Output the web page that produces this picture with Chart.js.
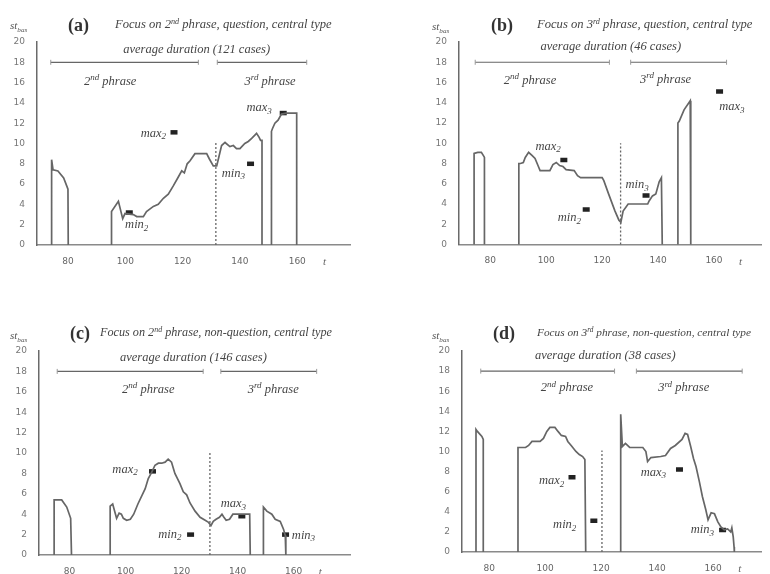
<!DOCTYPE html>
<html>
<head>
<meta charset="utf-8">
<title>st_bas contours</title>
<script src="https://cdn.jsdelivr.net/npm/chart.js@4.4.1/dist/chart.umd.min.js"></script>
<style>
  body { margin: 0; background: #fff; }
  #page { position: relative; width: 770px; height: 574px; overflow: hidden; font-family: "Liberation Serif", serif; color: #444; }
  canvas { position: absolute; }
  .lab { position: absolute; white-space: nowrap; line-height: 1; }
  .tag { font-weight: bold; font-size: 18px; color: #333; }
  .ttl { font-style: italic; font-size: 12.6px; color: #444; }
  .ylab { font-style: italic; font-size: 11px; color: #555; }
  sup { font-size: 65%; vertical-align: 0; position: relative; top: -0.5em; }
  sub { font-size: 65%; vertical-align: 0; position: relative; top: 0.35em; }
</style>
</head>
<body>
<div id="page">
  <canvas id="ca" width="385" height="287" style="left:0;top:0"></canvas>
  <canvas id="cb" width="385" height="287" style="left:385px;top:0"></canvas>
  <canvas id="cc" width="385" height="287" style="left:0;top:287px"></canvas>
  <canvas id="cd" width="385" height="287" style="left:385px;top:287px"></canvas>

  <div class="lab ylab" style="left:10px;top:20px">st<sub>bas</sub></div>
  <div class="lab tag" style="left:68px;top:16px">(a)</div>
  <div class="lab ttl" style="left:115px;top:18px">Focus on 2<sup>nd</sup> phrase, question, central type</div>

  <div class="lab ylab" style="left:432px;top:21px">st<sub>bas</sub></div>
  <div class="lab tag" style="left:491px;top:16px">(b)</div>
  <div class="lab ttl" style="left:537px;top:18px">Focus on 3<sup>rd</sup> phrase, question, central type</div>

  <div class="lab ylab" style="left:10px;top:330px">st<sub>bas</sub></div>
  <div class="lab tag" style="left:70px;top:324px">(c)</div>
  <div class="lab ttl" style="left:100px;top:326px;font-size:12.2px">Focus on 2<sup>nd</sup> phrase, non-question, central type</div>

  <div class="lab ylab" style="left:432px;top:330px">st<sub>bas</sub></div>
  <div class="lab tag" style="left:493px;top:324px">(d)</div>
  <div class="lab ttl" style="left:537px;top:327px;font-size:11.3px">Focus on 3<sup>rd</sup> phrase, non-question, central type</div>
</div>

<script>
// tick labels
const xTicks = [80, 100, 120, 140, 160];
const yTicks = [0, 2, 4, 6, 8, 10, 12, 14, 16, 18, 20];

// [t, st_bas] pairs, null = gap between voiced stretches
const curveA = [
  [74.3, 0], [74.3, 8.4], [74.8, 7.4], [76.5, 7.3], [78.5, 6.6], [79.6, 5.8], [80.0, 5.5], [80.1, 0], null,
  [95.2, 0], [95.2, 3.3], [97.6, 4.3], [99.1, 2.6], [99.9, 3.1], [102.8, 3.0], [104.0, 2.8], [106.3, 2.8],
  [107.4, 3.3], [109.8, 3.8], [111.5, 4.0], [113.3, 4.6], [115.0, 5.0], [116.7, 5.8], [118.5, 6.7],
  [119.7, 7.3], [120.6, 7.1], [121.6, 8.0], [122.6, 8.3], [124.3, 9.0], [126.0, 9.0], [128.4, 9.0],
  [129.3, 8.5], [130.7, 7.8], [131.9, 7.8], [132.5, 8.5], [133.6, 9.8], [134.8, 10.1], [136.5, 9.7],
  [137.7, 9.8], [138.8, 9.5], [140.0, 9.5], [141.7, 10.0], [142.9, 10.2], [144.1, 10.5], [145.8, 11.0],
  [146.7, 10.6], [147.2, 10.3], [147.7, 10.3], [147.7, 0], null,
  [151.0, 0], [151.0, 11.2], [151.4, 11.5], [152.2, 12.0], [153.3, 12.3], [154.5, 12.9], [156.3, 13.0],
  [159.2, 13.0], [159.8, 13.0], [159.8, 0]
];
const curveB = [
  [74.2, 0], [74.2, 9.0], [75.5, 9.1], [76.8, 9.1], [77.7, 8.7], [77.9, 8.6], [77.9, 0], null,
  [90.2, 0], [90.2, 8.0], [90.8, 8.0], [91.8, 8.1], [92.5, 8.6], [93.7, 9.1], [94.9, 8.8], [96.0, 8.5],
  [97.2, 7.7], [97.8, 7.3], [100.1, 7.3], [101.3, 7.3], [102.4, 7.9], [103.6, 8.1], [104.8, 7.8],
  [106.0, 7.7], [107.1, 7.4], [110.0, 7.3], [111.2, 6.8], [112.3, 6.6], [115.3, 6.6], [120.0, 6.6],
  [120.6, 6.3], [122.3, 5.0], [124.6, 3.3], [126.0, 2.4], [126.7, 2.2], [127.5, 3.3], [129.3, 4.0],
  [131.6, 4.0], [133.9, 4.0], [136.3, 4.0], [136.8, 4.3], [138.0, 4.8], [139.2, 5.0], [140.4, 6.2],
  [141.2, 6.6], [141.5, 0], null,
  [147.1, 0], [147.1, 12.0], [147.6, 12.2], [149.3, 13.3], [151.5, 14.2], [151.7, 0]
];
const curveC = [
  [74.5, 0], [74.5, 5.4], [75.5, 5.4], [77.2, 5.4], [79.0, 4.7], [80.4, 3.6], [80.7, 0], null,
  [94.5, 0], [94.5, 4.8], [95.4, 5.0], [96.2, 4.2], [96.8, 3.6], [97.7, 4.1], [98.5, 4.0], [99.2, 3.6],
  [100.4, 3.4], [101.7, 3.5], [102.9, 4.0], [104.4, 5.0], [107.0, 6.5], [108.1, 7.5], [109.3, 8.1],
  [110.5, 8.8], [111.7, 9.0], [112.9, 9.0], [114.1, 9.1], [115.2, 9.4], [116.4, 9.1], [117.6, 8.0],
  [119.4, 7.0], [120.6, 6.2], [121.8, 5.9], [123.0, 5.1], [124.8, 4.3], [126.6, 3.7], [128.4, 3.4],
  [129.6, 3.2], [130.5, 2.9], [131.3, 3.3], [132.3, 3.5], [133.5, 3.7], [134.4, 4.0], [135.1, 3.7],
  [135.9, 3.4], [137.1, 3.5], [138.3, 4.0], [140.1, 4.0], [144.3, 4.0], [144.5, 0], null,
  [149.2, 0], [149.2, 4.7], [150.4, 4.3], [152.2, 4.0], [153.4, 3.5], [155.2, 3.3], [156.4, 2.5],
  [157.0, 1.9], [157.2, 0]
];
const curveD = [
  [75.3, 0], [75.3, 12.2], [75.8, 12.0], [77.4, 11.5], [77.9, 11.2], [77.9, 0], null,
  [90.3, 0], [90.3, 10.4], [93.0, 10.4], [94.1, 10.6], [95.3, 11.0], [98.2, 11.0], [99.4, 11.3],
  [100.6, 12.0], [101.7, 12.4], [103.5, 12.4], [104.6, 12.0], [105.8, 11.6], [107.3, 11.5], [108.1, 11.0],
  [109.3, 10.6], [111.0, 10.0], [112.2, 9.7], [113.4, 9.5], [114.2, 9.2], [114.5, 0], null,
  [127.0, 0], [127.0, 13.7], [127.6, 10.5], [128.7, 10.8], [130.2, 10.4], [134.9, 10.4], [136.0, 10.0],
  [136.6, 9.0], [137.8, 9.4], [141.3, 9.5], [143.0, 9.6], [144.8, 10.3], [146.5, 10.6], [148.9, 11.2],
  [150.0, 11.8], [150.9, 11.7], [152.0, 10.5], [153.0, 9.3], [153.9, 8.5], [155.1, 7.0], [156.2, 5.5],
  [157.4, 4.2], [158.2, 3.2], [159.3, 3.9], [160.5, 3.8], [161.7, 3.0], [162.8, 2.5], [164.0, 2.2],
  [165.2, 2.3], [166.3, 2.0], [166.7, 2.4], [167.2, 1.5], [167.5, 0.5], [167.6, 0]
];

// max/min marks: [t, st_bas]
const marksA = { max2: [117.0, 11.1], min2: [101.4, 3.2], min3: [143.7, 8.0], max3: [155.1, 13.0] };
const marksB = { max2: [106.3, 8.35], min2: [114.3, 3.45], min3: [135.7, 4.85], max3: [162.0, 15.1] };
const marksC = { max2: [109.6, 8.2], min2: [123.2, 2.0], max3: [141.5, 3.8], min3: [157.1, 2.0] };
const marksD = { max2: [109.6, 7.45], min2: [117.4, 3.1], max3: [148.0, 8.2], min3: [163.4, 2.2] };

// phrase boundary (dotted) and average phrase durations
const boundaryT = [131.6, 126.6, 130.1, 120.3];
const boundaryTop = [10.2, 10.0, 10.2, 10.1];
const phrase2Span = [[74.0, 125.5], [74.6, 122.6], [75.6, 127.7], [77.0, 124.8]];
const phrase3Span = [[132.1, 163.3], [130.2, 164.5], [134.0, 168.2], [132.6, 170.4]];
const cases = [121, 46, 146, 38];

// ---- layout (pixels + label anchors) ----
const W = 385, H = 287, T_LABEL = 169.5, SPAN_Y = 18, NOTE_PX = 12.5;
const panels = [
  { id: 'ca', curve: curveA, marks: marksA, left: 37, right: 350, top: 42, bottom: 245, tMin: 69.2, tMax: 178.4,
    avg: [124.9, 19.2], ph2: [94.7, 16.1], ph3: [150.5, 16.1],
    notes: { max2: [109.8, 11.0], min2: [104.0, 2.0], min3: [137.7, 7.05], max3: [146.7, 13.5] } },
  { id: 'cb', curve: curveB, marks: marksB, left: 74, right: 383, top: 42, bottom: 244.5, tMin: 68.8, tMax: 177.0,
    avg: [123.1, 19.5], ph2: [94.2, 16.2], ph3: [142.7, 16.3],
    notes: { max2: [100.7, 9.7], min2: [108.3, 2.6], min3: [132.5, 5.9], max3: [166.4, 13.6] } },
  { id: 'cc', curve: curveC, marks: marksC, left: 39, right: 350, top: 64, bottom: 268, tMin: 69.1, tMax: 180.1,
    avg: [124.2, 19.3], ph2: [108.1, 16.2], ph3: [152.7, 16.2],
    notes: { max2: [99.8, 8.4], min2: [115.8, 2.0], max3: [138.5, 5.0], min3: [163.5, 1.9] } },
  { id: 'cd', curve: curveD, marks: marksD, left: 77, right: 383, top: 64, bottom: 265, tMin: 70.3, tMax: 177.3,
    avg: [121.5, 19.5], ph2: [107.8, 16.3], ph3: [149.5, 16.3],
    notes: { max2: [102.3, 7.1], min2: [107.0, 2.7], max3: [138.7, 7.9], min3: [156.2, 2.2] } }
];

const LINE = '#666';

function toPoints(pairs) {
  let lastX = 0;
  return pairs.map(p => {
    if (!p) return { x: lastX, y: null };
    lastX = p[0];
    return { x: p[0], y: p[1] };
  });
}

// draw italic text with optional sub/sup pieces, centred on (cx, cy)
function drawRich(ctx, parts, cx, cy, size) {
  const fontFor = k => 'italic ' + (k ? size * 0.72 : size) + 'px "Liberation Serif"';
  let w = 0;
  parts.forEach(([s, k]) => { ctx.font = fontFor(k); w += ctx.measureText(s).width; });
  let x = cx - w / 2;
  ctx.textAlign = 'left';
  ctx.textBaseline = 'middle';
  parts.forEach(([s, k]) => {
    ctx.font = fontFor(k);
    const dy = k === 'sub' ? 3.5 : (k === 'sup' ? -4 : 0);
    ctx.fillText(s, x, cy + dy);
    x += ctx.measureText(s).width;
  });
}

function notesPlugin(P, i) {
  return {
    id: 'notes' + i,
    afterDatasetsDraw(chart) {
      const { ctx, scales: { x, y } } = chart;
      const at = p => [x.getPixelForValue(p[0]), y.getPixelForValue(p[1])];
      ctx.save();
      ctx.fillStyle = '#454545';
      drawRich(ctx, [['average duration (' + cases[i] + ' cases)']], ...at(P.avg), NOTE_PX);
      drawRich(ctx, [['2'], ['nd', 'sup'], [' phrase']], ...at(P.ph2), NOTE_PX);
      drawRich(ctx, [['3'], ['rd', 'sup'], [' phrase']], ...at(P.ph3), NOTE_PX);
      Object.keys(P.notes).forEach(k => {
        drawRich(ctx, [[k.slice(0, 3)], [k.slice(3), 'sub']], ...at(P.notes[k]), NOTE_PX);
      });
      ctx.restore();
    }
  };
}

panels.forEach((P, i) => {
  const spanSet = s => ({
    data: [{ x: s[0], y: SPAN_Y }, { x: s[1], y: SPAN_Y }],
    borderColor: '#666', borderWidth: 1.2, pointStyle: 'line', rotation: 90,
    pointRadius: 2.5, pointBorderWidth: 1, pointBorderColor: '#999'
  });
  const markKeys = Object.keys(P.marks);

  new Chart(document.getElementById(P.id), {
    type: 'line',
    data: {
      datasets: [
        { data: toPoints(P.curve), borderColor: LINE, borderWidth: 1.7, pointRadius: 0, spanGaps: false, clip: 4 },
        { data: [{ x: boundaryT[i], y: 0 }, { x: boundaryT[i], y: boundaryTop[i] }],
          borderColor: '#666', borderWidth: 1.3, borderDash: [2, 2], pointRadius: 0, clip: 4 },
        spanSet(phrase2Span[i]),
        spanSet(phrase3Span[i]),
        { data: markKeys.map(k => ({ x: P.marks[k][0], y: P.marks[k][1] })), showLine: false,
          pointStyle: 'line', pointRadius: 3.5, pointBorderWidth: 4.5, pointBorderColor: '#222' }
      ]
    },
    options: {
      responsive: false,
      animation: false,
      events: [],
      layout: { padding: { left: 0, top: P.top, right: W - P.right, bottom: 0 } },
      plugins: { legend: { display: false }, tooltip: { enabled: false } },
      scales: {
        x: {
          type: 'linear', min: P.tMin, max: P.tMax,
          afterFit: s => { s.height = H - P.bottom; },
          afterBuildTicks: s => { s.ticks = xTicks.concat([T_LABEL]).map(v => ({ value: v })); },
          grid: { display: false, drawTicks: false },
          border: { color: '#8a8a8a', width: 1.5 },
          ticks: {
            padding: 11, color: '#666', autoSkip: false, maxRotation: 0,
            font: c => (c.tick && c.tick.value === T_LABEL)
              ? { family: 'Liberation Serif', style: 'italic', size: 11 }
              : { family: 'DejaVu Sans', size: 9 },
            callback: v => v === T_LABEL ? 't' : v
          }
        },
        y: {
          min: 0, max: 20,
          afterFit: s => { s.width = P.left; },
          afterBuildTicks: s => { s.ticks = yTicks.map(v => ({ value: v })); },
          grid: { display: false, drawTicks: false },
          border: { color: '#6a6a6a', width: 1.5 },
          ticks: { padding: 12, color: '#777', font: { family: 'DejaVu Sans', size: 9 } }
        }
      }
    },
    plugins: [notesPlugin(P, i)]
  });
});
</script>
</body>
</html>
